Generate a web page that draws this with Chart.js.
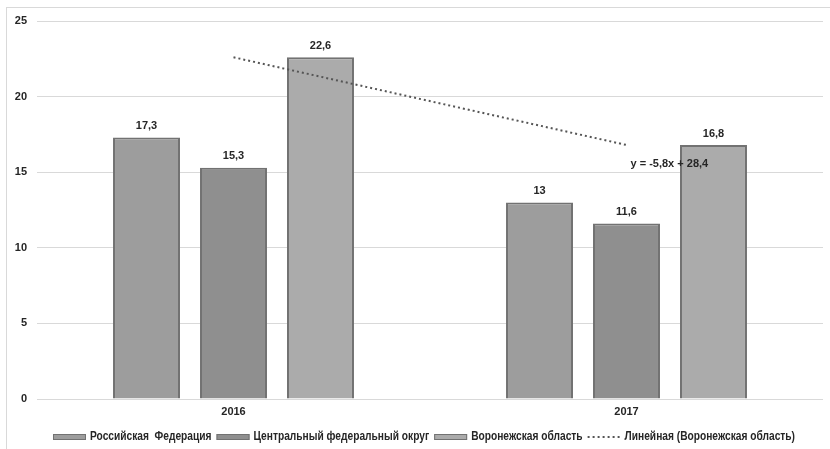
<!DOCTYPE html>
<html>
<head>
<meta charset="utf-8">
<script src="https://cdn.jsdelivr.net/npm/chart.js@4"></script>
<style>
html,body{margin:0;padding:0;background:#fff;}
#wrap{width:830px;height:449px;position:relative;}
</style>
</head>
<body>
<div id="wrap"><canvas id="c" width="830" height="449"></canvas></div>
<script>
const categories = ['2016', '2017'];
const seriesNames = ['Российская  Федерация', 'Центральный федеральный округ', 'Воронежская область'];
const rfValues = [17.3, 13];
const cfoValues = [15.3, 11.6];
const vorValues = [22.6, 16.8];
const trendName = 'Линейная (Воронежская область)';
const trendValues = [22.6, 16.8];
const trendEquation = 'y = -5,8x + 28,4';
const yTicks = [0, 5, 10, 15, 20, 25];

const fillColors = ['#9d9d9d', '#8f8f8f', '#ababab'];
const borderColor = '#727272';
const trendColor = '#555555';

const fmt = v => String(v).replace('.', ',');

const decor = {
  id: 'decor',
  beforeDraw(chart) {
    const ctx = chart.ctx;
    ctx.save();
    ctx.fillStyle = '#fff';
    ctx.fillRect(0, 0, chart.width, chart.height);
    ctx.strokeStyle = '#d9d9d9';
    ctx.lineWidth = 1;
    ctx.strokeRect(6.5, 7.5, 840, 460);
    ctx.restore();
  },
  afterDatasetsDraw(chart) {
    const ctx = chart.ctx;
    ctx.save();
    ctx.font = 'bold 11px "Liberation Sans", Arial, sans-serif';
    ctx.fillStyle = '#262626';
    ctx.textAlign = 'center';
    ctx.textBaseline = 'bottom';
    for (let d = 0; d < 3; d++) {
      const meta = chart.getDatasetMeta(d);
      meta.data.forEach((el, i) => {
        const v = chart.data.datasets[d].data[i];
        ctx.fillText(fmt(v), el.x, el.y - 6);
      });
    }
    const x = chart.scales.x, y = chart.scales.y;
    ctx.textAlign = 'left';
    ctx.textBaseline = 'middle';
    ctx.fillText(trendEquation, x.getPixelForValue(1) + 4, y.getPixelForValue(15.55));
    ctx.restore();
  },
  afterDraw(chart) {
    // legend drawn from the datasets (condensed text to mimic a narrow font)
    const ctx = chart.ctx;
    const sx = 0.85;
    const boxW = 33, boxH = 6, textGap = 4, itemGap = 5;
    const cy = 437;
    ctx.save();
    ctx.font = 'bold 12px "Liberation Sans", Arial, sans-serif';
    const items = chart.data.datasets.map((ds, i) => ({ ds, i, tw: ctx.measureText(ds.label).width * sx }));
    let total = 0;
    items.forEach((it, k) => { total += boxW + textGap + it.tw + (k < items.length - 1 ? itemGap : 0); });
    let x = 424 - total / 2;
    items.forEach(it => {
      const ds = it.ds;
      if (it.i < 3) {
        ctx.fillStyle = ds.backgroundColor;
        ctx.fillRect(x, cy - boxH / 2, boxW, boxH);
        ctx.strokeStyle = borderColor;
        ctx.lineWidth = 1;
        ctx.strokeRect(x + 0.5, cy - boxH / 2 + 0.5, boxW - 1, boxH - 1);
      } else {
        ctx.strokeStyle = trendColor;
        ctx.lineWidth = 2;
        ctx.setLineDash([2, 3]);
        ctx.beginPath();
        ctx.moveTo(x, cy);
        ctx.lineTo(x + boxW, cy);
        ctx.stroke();
        ctx.setLineDash([]);
      }
      x += boxW + textGap;
      ctx.save();
      ctx.translate(x, cy);
      ctx.scale(sx, 1);
      ctx.fillStyle = '#262626';
      ctx.textAlign = 'left';
      ctx.textBaseline = 'middle';
      ctx.fillText(ds.label, 0, 0);
      ctx.restore();
      x += it.tw + itemGap;
    });
    ctx.restore();
  }
};

new Chart(document.getElementById('c'), {
  type: 'bar',
  data: {
    labels: categories,
    datasets: [
      { label: seriesNames[0], data: rfValues, backgroundColor: fillColors[0], borderColor: borderColor, borderWidth: 2, order: 2 },
      { label: seriesNames[1], data: cfoValues, backgroundColor: fillColors[1], borderColor: borderColor, borderWidth: 2, order: 2 },
      { label: seriesNames[2], data: vorValues, backgroundColor: fillColors[2], borderColor: borderColor, borderWidth: 2, order: 2 },
      { type: 'line', label: trendName, data: trendValues, borderColor: trendColor, backgroundColor: trendColor, borderWidth: 2, borderDash: [2, 3], pointRadius: 0, fill: false, order: 1 }
    ]
  },
  options: {
    responsive: false,
    animation: false,
    devicePixelRatio: 1,
    datasets: { bar: { categoryPercentage: 0.664, barPercentage: 0.77 } },
    layout: { padding: { left: 0, right: 7, top: 21, bottom: 28 } },
    scales: {
      x: {
        grid: { display: false, drawTicks: false },
        border: { display: false },
        ticks: { color: '#262626', font: { family: '"Liberation Sans", Arial, sans-serif', size: 11, weight: 'bold' }, padding: 6 },
        afterFit(s) { s.height = 22; }
      },
      y: {
        min: 0, max: 25,
        afterBuildTicks(s) { s.ticks = yTicks.map(v => ({ value: v })); },
        grid: { color: '#d9d9d9', lineWidth: 1, drawTicks: false },
        border: { display: false },
        ticks: { color: '#262626', font: { family: '"Liberation Sans", Arial, sans-serif', size: 11, weight: 'bold' }, padding: 10 },
        afterFit(s) { s.width = 37; }
      }
    },
    plugins: {
      tooltip: { enabled: false },
      legend: { display: false }
    }
  },
  plugins: [decor]
});
</script>
</body>
</html>
